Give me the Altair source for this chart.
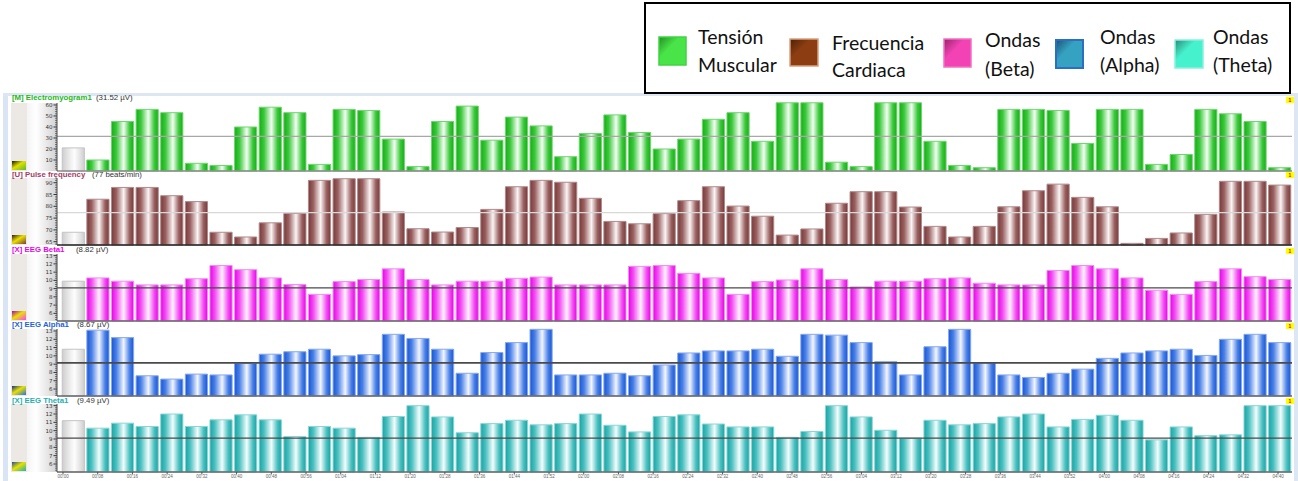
import altair as alt
import pandas as pd
import numpy as np

# ---------------- data ----------------
idx = list(range(50))  # bar 0 = grey reference bar

emg = [21, 10, 45, 56, 53, 7, 5, 40, 58, 53, 6,
       56, 55, 29, 4, 45, 59, 28, 49, 41, 13,
       34, 51, 35, 20, 29, 47, 53, 27, 62, 62,
       8, 4, 62, 62, 27, 5, 3, 56, 56, 55,
       25, 56, 56, 6, 15, 56, 52, 45, 3]

pulse = [69, 83, 88, 88, 84.5, 82, 69, 67, 73, 77, 91,
         91.7, 91.7, 77.6, 70.5, 69.1, 71, 78.7, 88.3, 91, 90.2,
         83.4, 73.6, 72.6, 76.9, 82.4, 88.3, 80.1, 75.8, 67.8, 70.4,
         81.3, 86.2, 86.2, 79.7, 71.5, 67, 71.5, 79.8, 86.6, 89.4,
         83.8, 79.8, 64.3, 66.4, 68.7, 76.6, 90.6, 90.6, 89]

beta = [9.9, 10.3, 9.9, 9.45, 9.45, 10.2, 11.8, 11.3, 10.3, 9.5, 8.3,
        9.85, 10.1, 11.4, 10.1, 9.45, 9.9, 9.9, 10.25, 10.4, 9.45,
        9.45, 9.45, 11.7, 11.8, 10.85, 10.3, 8.3, 9.85, 10.05, 11.4,
        10.1, 9.2, 9.9, 9.9, 10.2, 10.3, 9.65, 9.45, 9.45, 11.2,
        11.8, 11.4, 10.3, 8.8, 8.3, 9.85, 11.4, 10.45, 10.1]

alpha = [10.8, 13.1, 12.2, 7.6, 7.2, 7.8, 7.7, 9.1, 10.2, 10.5, 10.8,
         10.0, 10.15, 12.6, 12.1, 10.8, 7.9, 10.4, 11.6, 13.2, 7.7,
         7.7, 7.9, 7.6, 8.9, 10.35, 10.6, 10.6, 10.8, 9.95, 12.6,
         12.5, 11.6, 9.3, 7.7, 11.1, 13.2, 9.15, 7.7, 7.4, 7.9,
         8.4, 9.7, 10.35, 10.6, 10.8, 10.05, 12.0, 12.6, 11.6]

theta = [11.2, 10.3, 10.9, 10.5, 12.0, 10.5, 11.3, 11.9, 11.3, 9.3, 10.5,
         10.3, 9.2, 11.7, 13.0, 11.65, 9.75, 10.85, 11.25, 10.7, 10.85,
         12.0, 10.65, 9.85, 11.7, 11.9, 10.8, 10.45, 10.45, 9.2, 9.9,
         13.0, 11.65, 10.05, 9.1, 11.25, 10.7, 10.85, 11.65, 12.0, 10.45,
         11.35, 11.85, 11.25, 8.9, 10.45, 9.4, 9.5, 13.0, 13.0]

series_names = ["[M] Electromyogram1", "[U] Pulse frequency", "[X] EEG Beta1",
                "[X] EEG Alpha1", "[X] EEG Theta1"]
series_units = ["(31.52 \u00b5V)", "(77 beats/min)", "(8.82 \u00b5V)",
                "(8.67 \u00b5V)", "(9.49 \u00b5V)"]
ref_values = [31.5, 77.3, 9.1, 9.15, 9.1]
major_ticks = [[10, 20, 30, 40, 50, 60], [65, 70, 75, 80, 85, 90],
               [6, 7, 8, 9, 10, 11, 12, 13], [6, 7, 8, 9, 10, 11, 12, 13],
               [6, 7, 8, 9, 10, 11, 12, 13]]

legend_line1 = ["Tensi\u00f3n", "Frecuencia", "Ondas", "Ondas", "Ondas"]
legend_line2 = ["Muscular", "Cardiaca", "(Beta)", "(Alpha)", "(Theta)"]

time_labels = ["00:00", "00:08", "00:16", "00:24", "00:32", "00:40", "00:48", "00:56",
               "01:04", "01:12", "01:20", "01:28", "01:36", "01:44", "01:52", "02:00",
               "02:08", "02:16", "02:24", "02:32", "02:40", "02:48", "02:56", "03:04",
               "03:12", "03:20", "03:28", "03:36", "03:44", "03:52", "04:00", "04:08",
               "04:16", "04:24", "04:32", "04:40"]

# ---------------- styles / layout ----------------
X0, X1 = 61, 1292
AXIS_X = 57

def grad(stops, x2=1, y2=0):
    return {"gradient": "linear", "x1": 0, "y1": 0, "x2": x2, "y2": y2,
            "stops": [{"offset": o, "color": c} for o, c in stops]}

def cyl(edge, mid, hi):
    return grad([(0, edge), (0.22, mid), (0.55, hi), (0.82, mid), (1, edge)])

panel_styles = [
    dict(domain=[0, 61.8], range=[171, 103], minor=2, top=103, bottom=171, title_y=98, unit_x=96,
         fill=cyl("#14ae14", "#3cc83c", "#f2fff2"), stroke="#6fd66f", tcolor="#22b822",
         ref_color="#a8a8a8", ref_w=1.2, base_color="#8a8a8a", icon=["#1a1a00", "#e0e000", "#5cb82a"]),
    dict(domain=[63.6, 92], range=[245, 178], minor=1, top=178, bottom=245, title_y=174.5, unit_x=92,
         fill=cyl("#783a3a", "#9a6060", "#fbf5f5"), stroke="#b08a8a", tcolor="#a43c66",
         ref_color="#d8d8d8", ref_w=1.2, base_color="#222222", icon=["#3a1a10", "#e8e000", "#7a3c3c"]),
    dict(domain=[5.07, 13.2], range=[321, 254], minor=0.25, top=254, bottom=321, title_y=250, unit_x=76,
         fill=cyl("#ea00ea", "#f24ef2", "#fff2ff"), stroke="#f28cf2", tcolor="#ee00ee",
         ref_color="#4a4a4a", ref_w=1.3, base_color="#666666", icon=["#b000b0", "#e8e000", "#ff40ff"]),
    dict(domain=[5.16, 13.24], range=[396, 329], minor=0.25, top=329, bottom=396, title_y=325, unit_x=77,
         fill=cyl("#1656d6", "#4a80e6", "#f2f6ff"), stroke="#86a8ee", tcolor="#2462dc",
         ref_color="#4a4a4a", ref_w=1.6, base_color="#666666", icon=["#10308a", "#e8e000", "#2a70e0"]),
    dict(domain=[5.04, 13.2], range=[472, 404], minor=0.25, top=404, bottom=472, title_y=401, unit_x=77,
         fill=cyl("#16a4a4", "#4cc0c0", "#f2fdfd"), stroke="#8ad6d6", tcolor="#1eb0b0",
         ref_color="#4a4a4a", ref_w=1.3, base_color="#666666", icon=["#1a50a0", "#e8e000", "#20b0b0"]),
]
grey_fill = cyl("#cdcdcd", "#e2e2e2", "#fdfdfd")

legend_colors = [("#238f23", "#48e448", "#3fd43f"), ("#4e2006", "#8c3e12", "#d8a080"),
                 ("#96246a", "#f242b4", "#f070c0"), ("#1a5474", "#36a2c2", "#2a6fc4"),
                 ("#2a8a74", "#46f2ce", "#86f2e0")]
legend_sw = [(659, 686, 37, 65), (790, 818, 39, 66), (944, 971, 39, 67),
             (1056, 1083, 40, 68), (1175, 1203, 40, 68)]
legend_txt = [(698, 38, 66), (832, 44, 71), (985, 41, 70), (1100, 38, 66), (1213, 38, 66)]
badge_y = [97, 172, 248, 323, 398]

ONE = alt.Data(values=[{"d": 0}])

def rect(x, x2, y, y2, **kw):
    return alt.Chart(ONE).mark_rect(**kw).encode(
        x=alt.value(x), x2=alt.value(x2), y=alt.value(y), y2=alt.value(y2))

def label(x, y, text, **kw):
    return alt.Chart(ONE).mark_text(text=text, **kw).encode(x=alt.value(x), y=alt.value(y))

layers = []

# window frame
layers.append(rect(3, 8, 93, 481, fill="#d9e5f4"))
layers.append(rect(3, 1298, 93, 96, fill="#dde7f4"))
layers.append(rect(1294, 1298, 93, 481, fill="#dde7f4"))

# ---------------- panels ----------------
values_list = [emg, pulse, beta, alpha, theta]
xenc = alt.X("idx:O", scale=alt.Scale(domain=idx, range=[X0, X1], paddingInner=0.1, paddingOuter=0.05),
             axis=None)

for k, (vals, st) in enumerate(zip(values_list, panel_styles)):
    lo, hi = st["domain"]
    # left decoration columns
    layers.append(rect(11, 27, st["top"], st["bottom"], fill="#ece8e4"))
    layers.append(rect(27, AXIS_X, st["top"], st["bottom"],
                       fill=grad([(0, "#f4f4f4"), (0.3, "#ffffff"), (1, "#d2d2d2")])))
    layers.append(rect(12, 26, st["bottom"] - 10, st["bottom"] - 1,
                       fill=grad([(0, st["icon"][0]), (0.45, st["icon"][1]), (1, st["icon"][2])], x2=1, y2=1)))
    # title
    layers.append(label(12, st["title_y"], series_names[k], align="left", baseline="middle",
                        font="Liberation Sans", fontSize=7.8, fontWeight="bold", color=st["tcolor"]))
    layers.append(label(st["unit_x"], st["title_y"], series_units[k], align="left", baseline="middle",
                        font="Liberation Sans", fontSize=7.8, color="#333333"))
    # badge
    layers.append(rect(1286, 1294, badge_y[k], badge_y[k] + 6, fill="#ffff00"))
    layers.append(label(1290, badge_y[k] + 3.3, "1", align="center", baseline="middle",
                        fontSize=5, fontWeight="bold", color="#d00000"))

    df = pd.DataFrame({"idx": idx, "value": vals})
    yscale = alt.Scale(domain=[lo, hi], range=st["range"], zero=False, nice=False)

    # y axis drawn from the panel's own scale
    tick_vals = [float(v) for v in np.arange(np.ceil(lo / st["minor"]) * st["minor"], hi + 1e-9, st["minor"])]
    tick_vals = [v for v in tick_vals if v > lo + 1e-6]
    majors = major_ticks[k]
    minor_df = pd.DataFrame({"v": [v for v in tick_vals if v not in majors]})
    major_df = pd.DataFrame({"v": [float(v) for v in majors], "lab": [str(v) for v in majors]})
    yv = alt.Y("v:Q", scale=yscale, axis=None)
    minor_t = alt.Chart(minor_df).mark_rule(color="#555555", strokeWidth=0.8).encode(
        y=yv, x=alt.value(AXIS_X - 2), x2=alt.value(AXIS_X))
    major_t = alt.Chart(major_df).mark_rule(color="#333333", strokeWidth=1).encode(
        y=yv, x=alt.value(AXIS_X - 3.5), x2=alt.value(AXIS_X))
    major_l = alt.Chart(major_df).mark_text(align="right", baseline="middle", fontSize=5.5,
                                            font="DejaVu Sans", color="#333333").encode(
        y=yv, x=alt.value(AXIS_X - 4.5), text="lab:N")
    axis_line = alt.Chart(ONE).mark_rule(color="#444444", strokeWidth=1).encode(
        x=alt.value(AXIS_X), y=alt.value(st["top"]), y2=alt.value(st["bottom"]))

    base = alt.Chart(df)
    grey_bar = base.transform_filter("datum.idx == 0").mark_bar(
        fill=grey_fill, stroke="#c4c4c4", strokeWidth=1).encode(
        x=xenc, y=alt.Y("value:Q", scale=yscale, axis=None), y2=alt.datum(lo))
    col_bar = base.transform_filter("datum.idx > 0").mark_bar(
        fill=st["fill"], stroke=st["stroke"], strokeWidth=1).encode(
        x=xenc, y=alt.Y("value:Q", scale=yscale, axis=None), y2=alt.datum(lo))
    ref = alt.Chart(ONE).mark_rule(color=st["ref_color"], strokeWidth=st["ref_w"]).encode(
        y=alt.Y(datum=ref_values[k], scale=yscale, axis=None), x=alt.value(AXIS_X), x2=alt.value(X1))
    baseline = alt.Chart(ONE).mark_rule(color=st["base_color"], strokeWidth=1.5).encode(
        y=alt.Y(datum=lo, scale=yscale, axis=None), x=alt.value(AXIS_X), x2=alt.value(X1))
    layers.append(alt.layer(grey_bar, col_bar, ref, baseline, minor_t, major_t, major_l, axis_line))

# ---------------- bottom time labels ----------------
tdf = pd.DataFrame({"t": list(range(len(time_labels))), "lab": time_labels})
tx = alt.X("t:Q", scale=alt.Scale(domain=[0, len(time_labels) - 1], range=[63, 1278], zero=False, nice=False),
           axis=None)
layers.append(alt.Chart(tdf).mark_text(fontSize=4.5, color="#666666", baseline="middle").encode(
    x=tx, y=alt.value(477), text="lab:N"))
layers.append(alt.Chart(tdf).mark_rule(color="#555555", strokeWidth=1).encode(
    x=tx, y=alt.value(472), y2=alt.value(474.5)))

# ---------------- legend box ----------------
layers.append(rect(645, 1290, 3, 93, fill="#ffffff", stroke="#000000", strokeWidth=2))
for i in range(5):
    x, x2, y, y2 = legend_sw[i]
    dark, light, strk = legend_colors[i]
    layers.append(rect(x, x2, y, y2,
                       fill=grad([(0, dark), (0.55, light), (1, light)], x2=0.7, y2=0.7),
                       stroke=strk, strokeWidth=2 if i == 3 else 1.5))
    tx0, ty1, ty2 = legend_txt[i]
    layers.append(label(tx0, ty1, legend_line1[i], align="left", baseline="middle",
                        font="Lato", fontSize=19.5, color="#111111"))
    layers.append(label(tx0, ty2, legend_line2[i], align="left", baseline="middle",
                        font="Lato", fontSize=19.5, color="#111111"))

chart = alt.layer(*layers).resolve_scale(x="independent", y="independent").properties(
    width=1298, height=481, autosize=alt.AutoSizeParams(type="none"), padding=0,
    background="#ffffff"
).configure_view(stroke=None)

chart.save("out.html", embed_options={"renderer": "svg", "actions": False})
